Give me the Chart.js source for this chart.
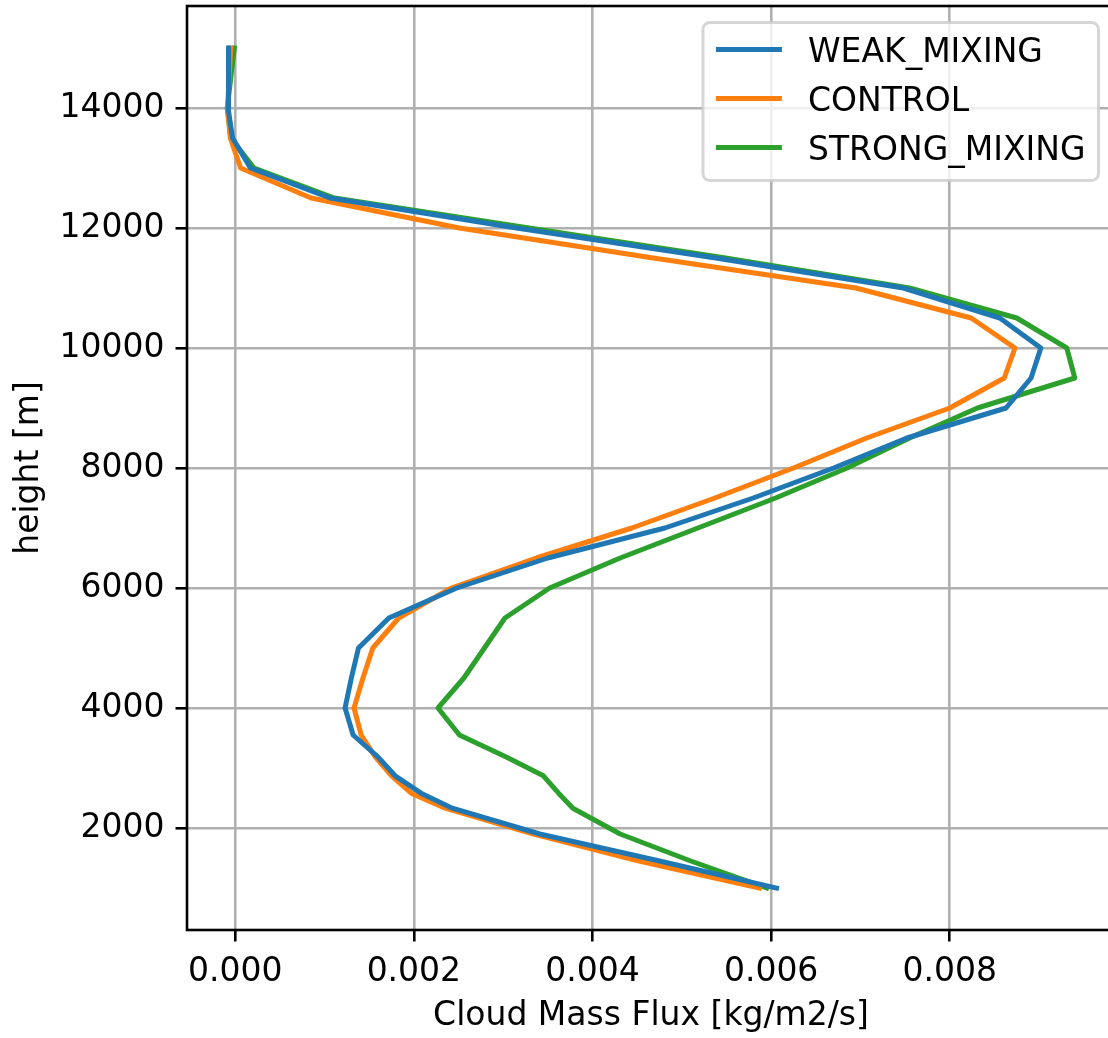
<!DOCTYPE html>
<html>
<head>
<meta charset="utf-8">
<title>Cloud mass flux profiles</title>
<script src="https://cdn.jsdelivr.net/npm/chart.js@4/dist/chart.umd.min.js"></script>
<style>
  html, body { margin: 0; padding: 0; background: #ffffff; overflow: hidden; }
  canvas { display: block; }
</style>
</head>
<body>
<canvas id="fluxChart" width="1120" height="1038"></canvas>
<script>
"use strict";

// Model levels [m]
const heights = [1000, 1450, 1900, 2330, 2580, 2870, 3180, 3550, 4000, 4500, 5000, 5500, 6000, 6500, 7000, 7500,
    8000, 8500, 9000, 9500, 10000, 10500, 11000, 11500, 12000, 12500, 13000, 13500, 14000, 14500, 15000];

// Cloud mass flux per experiment [kg/m2/s], one value per level
const weakMixing = [0.00606, 0.00475, 0.00341, 0.00243, 0.00208, 0.00179, 0.00160, 0.00132, 0.00123, 0.00130,
    0.00138, 0.00172, 0.00248, 0.00350, 0.00481, 0.00580, 0.00670, 0.00752, 0.00863, 0.00891, 0.00902,
    0.00856, 0.00748, 0.00538, 0.00315, 0.00106, 0.00017, -0.00003, -0.00008, -0.00008, -0.00007];
const control = [0.00587, 0.00452, 0.00334, 0.00235, 0.00197, 0.00175, 0.00157, 0.00141, 0.00133, 0.00143,
    0.00154, 0.00183, 0.00242, 0.00337, 0.00444, 0.00537, 0.00625, 0.00707, 0.00800, 0.00861, 0.00873,
    0.00824, 0.00695, 0.00468, 0.00251, 0.00085, 0.00006, -0.000055, -0.000085, -0.00007, -0.00005];
const strongMixing = [0.00595, 0.00510, 0.00431, 0.00378, 0.00362, 0.00345, 0.00304, 0.00251, 0.00227, 0.00256,
    0.00279, 0.00302, 0.00352, 0.00431, 0.00518, 0.00605, 0.00685, 0.00755, 0.00831, 0.00940, 0.00931,
    0.00875, 0.00755, 0.00549, 0.00329, 0.00111, 0.00021, -0.00005, -0.00009, -0.00005, -0.00001];

const seriesNames = ["WEAK_MIXING", "CONTROL", "STRONG_MIXING"];
const seriesColors = ["#1f77b4", "#ff7f0e", "#2ca02c"];

// Axis ticks
const xTicks = [0, 0.002, 0.004, 0.006, 0.008];
const yTicks = [2000, 4000, 6000, 8000, 10000, 12000, 14000];

const FONT_SIZE = 33;
const LINE_W = 2.6;

Chart.defaults.font.family = "'DejaVu Sans', sans-serif";
Chart.defaults.font.size = FONT_SIZE;
Chart.defaults.color = "#000000";

function profile(values) {
    return values.map(function (v, i) {
        return { x: v, y: heights[i] };
    });
}

// Axes frame drawn on top of the lines
const framePlugin = {
    id: "frame",
    afterDatasetsDraw(chart) {
        const { ctx, chartArea } = chart;
        ctx.save();
        ctx.strokeStyle = "#000000";
        ctx.lineWidth = LINE_W;
        ctx.strokeRect(chartArea.left, chartArea.top, chartArea.right - chartArea.left, chartArea.bottom - chartArea.top);
        ctx.restore();
    }
};

// Legend box in the upper right corner of the plot
const legendPlugin = {
    id: "insideLegend",
    afterDraw(chart) {
        const { ctx, chartArea } = chart;
        const sets = chart.data.datasets;
        ctx.save();
        ctx.font = FONT_SIZE + "px 'DejaVu Sans', sans-serif";
        let textW = 0;
        sets.forEach(function (ds) {
            textW = Math.max(textW, ctx.measureText(ds.label).width);
        });
        const pad = 13;
        const handle = 66;
        const gap = 26;
        const rowGap = 49;
        const boxW = pad + handle + gap + textW + pad;
        const boxH = 27 + rowGap * (sets.length - 1) + 33;
        const right = chartArea.right - 16.5;
        const top = chartArea.top + 16.5;
        const left = right - boxW;

        ctx.beginPath();
        ctx.roundRect(left, top, boxW, boxH, 7);
        ctx.fillStyle = "rgba(255,255,255,0.8)";
        ctx.fill();
        ctx.lineWidth = 3;
        ctx.strokeStyle = "rgba(204,204,204,0.8)";
        ctx.stroke();

        sets.forEach(function (ds, i) {
            const cy = top + 27 + i * rowGap;
            ctx.beginPath();
            ctx.moveTo(left + pad, cy);
            ctx.lineTo(left + pad + handle, cy);
            ctx.strokeStyle = ds.borderColor;
            ctx.lineWidth = 5;
            ctx.lineCap = "butt";
            ctx.stroke();
            ctx.fillStyle = "#000000";
            ctx.textBaseline = "alphabetic";
            ctx.textAlign = "left";
            ctx.fillText(ds.label, left + pad + handle + gap, cy + 12);
        });
        ctx.restore();
    }
};

const datasets = [weakMixing, control, strongMixing].map(function (values, i) {
    return {
        label: seriesNames[i],
        data: profile(values),
        showLine: true,
        borderColor: seriesColors[i],
        backgroundColor: seriesColors[i],
        borderWidth: 5,
        borderCapStyle: "square",
        borderJoinStyle: "round",
        pointRadius: 0,
        tension: 0
    };
});

new Chart(document.getElementById("fluxChart"), {
    type: "scatter",
    data: { datasets: datasets },
    options: {
        responsive: false,
        animation: false,
        layout: { padding: { top: 6, right: 5, bottom: 0, left: 0 } },
        plugins: {
            legend: { display: false },
            tooltip: { enabled: false }
        },
        scales: {
            x: {
                type: "linear",
                min: -0.00054,
                max: 0.00985,
                afterFit: function (scale) {
                    scale.height = 108;
                    scale.paddingLeft = 0;
                    scale.paddingRight = 0;
                },
                afterBuildTicks: function (scale) {
                    scale.ticks = xTicks.map(function (v) { return { value: v }; });
                },
                ticks: {
                    padding: 11,
                    maxRotation: 0,
                    autoSkip: false,
                    callback: function (v) { return v.toFixed(3); }
                },
                grid: {
                    color: "#b0b0b0",
                    lineWidth: LINE_W,
                    tickColor: "#000000",
                    tickWidth: LINE_W,
                    tickLength: 11.5
                },
                border: { display: false },
                title: {
                    display: true,
                    text: "Cloud Mass Flux [kg/m2/s]",
                    padding: { top: 0, bottom: 2 }
                }
            },
            y: {
                type: "linear",
                min: 300,
                max: 15700,
                afterFit: function (scale) {
                    scale.width = 187;
                    scale.paddingTop = 0;
                    scale.paddingBottom = 0;
                },
                afterBuildTicks: function (scale) {
                    scale.ticks = yTicks.map(function (v) { return { value: v }; });
                },
                ticks: {
                    padding: 11,
                    autoSkip: false,
                    callback: function (v) { return String(v); }
                },
                grid: {
                    color: "#b0b0b0",
                    lineWidth: LINE_W,
                    tickColor: "#000000",
                    tickWidth: LINE_W,
                    tickLength: 11.5
                },
                border: { display: false },
                title: {
                    display: true,
                    text: "height [m]",
                    padding: { top: 10, bottom: 0 }
                }
            }
        }
    },
    plugins: [framePlugin, legendPlugin]
});
</script>
</body>
</html>
